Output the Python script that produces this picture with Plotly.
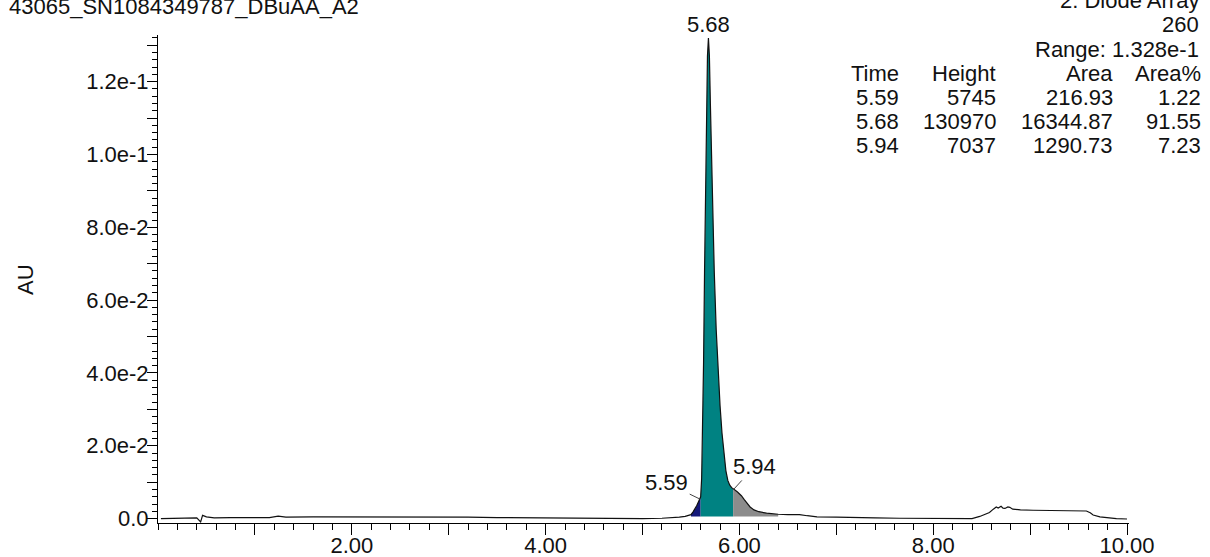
import numpy as np
import plotly.graph_objects as go

# Chromatogram, diode array channel at 260 nm (retention time in min, absorbance in AU)
TIME = [
    0.03, 0.15, 0.30, 0.40, 0.44, 0.46, 0.50, 0.58, 0.75, 1.00, 1.15, 1.24, 1.32,
    1.60, 1.85, 2.08, 2.30, 2.60, 2.90, 3.20, 3.50, 3.80, 4.10, 4.40, 4.70, 5.00,
    5.20, 5.30, 5.38, 5.44, 5.48, 5.50, 5.52, 5.54, 5.56, 5.58, 5.60, 5.61, 5.62,
    5.63, 5.64, 5.65, 5.66, 5.67, 5.68, 5.69, 5.70, 5.71, 5.72, 5.74, 5.76, 5.78,
    5.80, 5.82, 5.84, 5.86, 5.88, 5.90, 5.92, 5.935, 5.96, 5.98, 6.00, 6.02, 6.05,
    6.08, 6.11, 6.15, 6.20, 6.28, 6.35, 6.40, 6.50, 6.62, 6.70, 6.80, 7.00, 7.15,
    7.40, 7.65, 8.00, 8.40, 8.48, 8.55, 8.58, 8.62, 8.65, 8.67, 8.70, 8.72, 8.74,
    8.77, 8.79, 8.82, 8.90, 9.03, 9.20, 9.38, 9.50, 9.55, 9.58, 9.62, 9.65, 9.72,
    9.80, 9.89, 10.00,
]
ABS = [
    0.0000, 0.0001, 0.0002, 0.0002, -0.0009, 0.0009, 0.0005, 0.0002, 0.0003, 0.0003, 0.0003, 0.0007, 0.0004,
    0.0005, 0.0005, 0.0006, 0.0005, 0.0005, 0.0004, 0.0004, 0.0003, 0.0002, 0.0001, 0.0000, 0.0000, 0.0000,
    0.0001, 0.0002, 0.0004, 0.0006, 0.0009, 0.0011, 0.0018, 0.0026, 0.0036, 0.0048, 0.0060, 0.0110, 0.0230,
    0.0430, 0.0680, 0.0930, 0.1140, 0.1270, 0.1320, 0.1270, 0.1140, 0.1000, 0.0880, 0.0680, 0.0520, 0.0400,
    0.0310, 0.0235, 0.0175, 0.0132, 0.0105, 0.0092, 0.0085, 0.0081, 0.0077, 0.0073, 0.0068, 0.0063, 0.0052,
    0.0041, 0.0032, 0.0024, 0.0019, 0.0015, 0.0013, 0.0012, 0.0011, 0.0011, 0.0008, 0.0005, 0.0004, 0.0004,
    0.0002, 0.0001, 0.0000, 0.0000, 0.0006, 0.0013, 0.0017, 0.0026, 0.0032, 0.0029, 0.0034, 0.0029, 0.0028,
    0.0032, 0.0031, 0.0026, 0.0024, 0.0023, 0.0023, 0.0023, 0.0023, 0.0023, 0.0021, 0.0016, 0.0010, 0.0005,
    0.0002, 0.0000, -0.0001,
]

# Integrated peaks
PEAK_TIMES = [5.59, 5.68, 5.94]
PEAK_HEIGHTS = [5745, 130970, 7037]
PEAK_AREAS = [216.93, 16344.87, 1290.73]
PEAK_AREA_PCT = [1.22, 91.55, 7.23]
PEAK_STARTS = [5.50, 5.60, 5.935]
PEAK_ENDS = [5.60, 5.935, 6.40]
PEAK_BASELINE = 0.0006
PEAK_COLORS = ["#15197a", "#008282", "#8c8c8c"]

X_TICK_VALUES = [1, 2, 3, 4, 5, 6, 7, 8, 9, 10]
X_TICK_LABELS = ["", "2.00", "", "4.00", "", "6.00", "", "8.00", "", "10.00"]
Y_TICK_VALUES = [0.00, 0.01, 0.02, 0.03, 0.04, 0.05, 0.06, 0.07, 0.08, 0.09, 0.10, 0.11, 0.12, 0.13]
Y_TICK_LABELS = ["0.0", "", "2.0e-2", "", "4.0e-2", "", "6.0e-2", "", "8.0e-2", "", "1.0e-1", "", "1.2e-1", ""]

SAMPLE_NAME = "43065_SN1084349787_DBuAA_A2"
CHANNEL = "2: Diode Array"
WAVELENGTH = "260"
RANGE_TEXT = "Range: 1.328e-1"

FONT = "Liberation Sans, Arial, sans-serif"
FS = 22

W, H = 1210, 557
M_L, M_R, M_T, M_B = 158, 81, 35, 34
PLOT_W = W - M_L - M_R
PLOT_H = H - M_T - M_B


def px_x(p):
    return (p - M_L) / PLOT_W


def px_y(p):
    return (H - M_B - p) / PLOT_H


t = np.array(TIME)
a = np.array(ABS)

fig = go.Figure()

# shaded peak areas between integration baseline and signal
for start, end, color in zip(PEAK_STARTS, PEAK_ENDS, PEAK_COLORS):
    mask = (t >= start - 1e-9) & (t <= end + 1e-9)
    xs = t[mask]
    ys = a[mask]
    poly_x = np.concatenate([xs, xs[::-1]])
    poly_y = np.concatenate([ys, np.full(len(xs), PEAK_BASELINE)])
    fig.add_trace(go.Scatter(
        x=poly_x, y=poly_y, mode="lines", fill="toself",
        fillcolor=color, line=dict(width=0, color=color),
        hoverinfo="skip", showlegend=False,
    ))

# signal trace
fig.add_trace(go.Scatter(
    x=TIME, y=ABS, mode="lines",
    line=dict(color="#111111", width=1.2),
    showlegend=False,
))

annotations = []

# peak retention time labels
apex_idx = int(np.argmax(a))
annotations.append(dict(
    x=PEAK_TIMES[1], y=float(a[apex_idx]), xref="x", yref="y",
    text=f"{PEAK_TIMES[1]:.2f}", showarrow=False, yanchor="middle", yshift=13,
    font=dict(family=FONT, size=FS, color="#111111"),
))
for rt, (ax, ay) in zip([PEAK_TIMES[0], PEAK_TIMES[2]], [(-33, -16), (21, -23)]):
    annotations.append(dict(
        x=rt, y=float(np.interp(rt, t, a)), xref="x", yref="y",
        text=f"{rt:.2f}", showarrow=True, arrowhead=0, arrowwidth=1,
        arrowcolor="#444444", standoff=0, ax=ax, ay=ay,
        font=dict(family=FONT, size=FS, color="#111111"),
    ))

# header text
annotations.append(dict(
    x=px_x(184), y=px_y(6), xref="paper", yref="paper", text=SAMPLE_NAME,
    showarrow=False, xanchor="center", yanchor="middle",
    font=dict(family=FONT, size=FS, color="#111111"),
))
for txt, yc in [(CHANNEL, 0), (WAVELENGTH, 24.5), (RANGE_TEXT, 49.5)]:
    annotations.append(dict(
        x=px_x(1201), y=px_y(yc), xref="paper", yref="paper", text=txt,
        showarrow=False, xanchor="right", yanchor="middle",
        font=dict(family=FONT, size=FS, color="#111111"),
    ))

# peak table
col_right = [901, 998, 1115, 1203]
rows = [["Time", "Height", "Area", "Area%"]]
for rt, h, ar, pc in zip(PEAK_TIMES, PEAK_HEIGHTS, PEAK_AREAS, PEAK_AREA_PCT):
    rows.append([f"{rt:.2f}", f"{h}", f"{ar:.2f}", f"{pc:.2f}"])
row_y = [73, 97.5, 121.5, 146]
for row, yc in zip(rows, row_y):
    for txt, xr in zip(row, col_right):
        annotations.append(dict(
            x=px_x(xr), y=px_y(yc), xref="paper", yref="paper", text=txt,
            showarrow=False, xanchor="right", yanchor="middle",
            font=dict(family=FONT, size=FS, color="#111111"),
        ))

# y axis title
annotations.append(dict(
    x=px_x(25), y=px_y(280), xref="paper", yref="paper", text="AU",
    showarrow=False, textangle=-90, xanchor="center", yanchor="middle",
    font=dict(family=FONT, size=FS, color="#111111"),
))

fig.update_layout(
    width=W, height=H,
    margin=dict(l=M_L, r=M_R, t=M_T, b=M_B),
    paper_bgcolor="white", plot_bgcolor="white",
    showlegend=False,
    annotations=annotations,
    font=dict(family=FONT, size=FS, color="#111111"),
    xaxis=dict(
        range=[0, 10.02], showgrid=False, zeroline=False, automargin=False,
        showline=True, linecolor="black", linewidth=1,
        ticks="outside", tickvals=X_TICK_VALUES, ticktext=X_TICK_LABELS,
        ticklen=11, tickwidth=1, tickcolor="black", ticklabelstandoff=-8,
        tickfont=dict(family=FONT, size=FS, color="#111111"),
        minor=dict(ticks="outside", tick0=0, dtick=0.2, ticklen=6,
                   tickwidth=1, tickcolor="black", showgrid=False),
    ),
    yaxis=dict(
        range=[-0.0012, 0.1328], showgrid=False, zeroline=False, automargin=False,
        showline=True, linecolor="black", linewidth=1,
        ticks="outside", tickvals=Y_TICK_VALUES, ticktext=Y_TICK_LABELS,
        ticklen=10, tickwidth=1, tickcolor="black", ticklabelstandoff=-6,
        tickfont=dict(family=FONT, size=FS, color="#111111"),
        minor=dict(ticks="outside", tick0=0, dtick=0.002, ticklen=5,
                   tickwidth=1, tickcolor="black", showgrid=False),
    ),
)

fig.write_html("out.html")
